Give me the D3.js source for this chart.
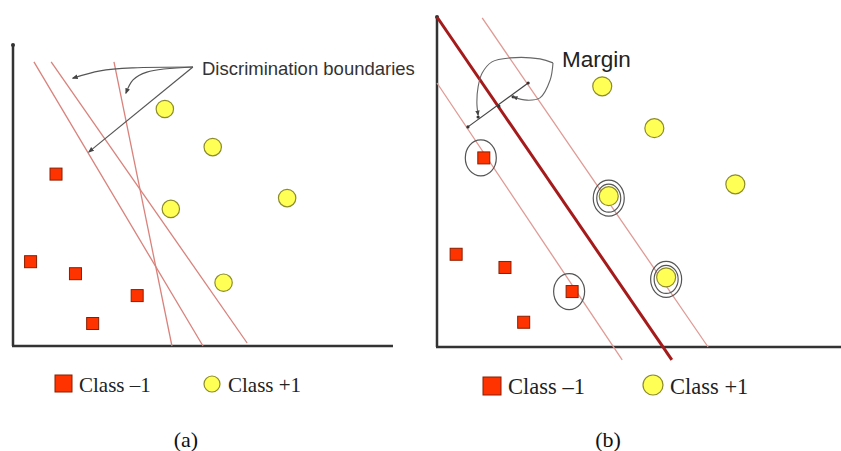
<!DOCTYPE html>
<html>
<head>
<meta charset="utf-8">
<script src="https://cdn.jsdelivr.net/npm/d3@7"></script>
<style>
  body { margin: 0; background: white; }
  svg { display: block; }
</style>
</head>
<body>
<svg id="chart" width="841" height="451"></svg>
<script>
// points, same set in both panels (units 0..100)
const classNeg = [[11.5, 57.3], [4.7, 28.1], [16.7, 24.1], [33.2, 16.8], [21.3, 7.5]];
const classPos = [[40.6, 79], [53.4, 66.3], [42.2, 45.7], [73.3, 49.3], [56.3, 21.1]];

// panel (a): three candidate boundaries
const boundariesA = [
  [[5.6, 94.7], [50.8, 0]],
  [[10.2, 94.7], [62.6, 1]],
  [[27, 94.7], [42.5, 0]]
];
// panel (b): hyperplane + two margin lines
const hyperplaneB = [[0, 100], [57.7, -3.9]];
const marginLinesB = [
  [[0, 80], [45.5, -3.9]],
  [[11.1, 99.7], [66.6, 0]]
];
// support vectors (index into classNeg / classPos)
const svNeg = [0, 3];
const svPos = [2, 4];

// annotation paths (same units)
const pointerA = [
  [[48.1, 93], [32.1, 92.7], [23.3, 91.7], [16, 89.3]],
  [[48.1, 93], [35.8, 91.3], [32.1, 88.7], [30.2, 84.3]],
  [[48.1, 93], [20.3, 64.7]]
];
const marginRuler = [[7.6, 66.7], [22.4, 80]];
const marginTicks = [[10.1, 69.7], [15.2, 73], [18.7, 75.8]];
const marginLoop = [
  [[28.5, 86.1], [25.3, 87.3], [17.9, 87.6], [13.5, 86.4], [11.1, 83], [10.1, 78.8], [9.8, 73.9], [10.1, 70.3]],
  [[28.5, 86.1], [27.8, 80.9], [25.3, 75.5], [22.1, 74.8], [18.7, 75.8]]
];

const legendLabels = ["Class \u20131", "Class +1"];
const captions = ["(a)", "(b)"];

const svg = d3.select('#chart');

const defs = svg.append('defs');
defs.append('marker')
  .attr('id', 'arrow')
  .attr('viewBox', '0 0 10 10')
  .attr('refX', 8).attr('refY', 5)
  .attr('markerWidth', 5).attr('markerHeight', 5)
  .attr('orient', 'auto-start-reverse')
  .append('path')
  .attr('d', 'M0,1 L10,5 L0,9 z')
  .style('fill', '#444');

const negFill = '#ff3300', negStroke = '#8a1e00';
const posFill = '#ffff55', posStroke = '#8c8c2a';
const axisColor = '#333';

function panel(props) {
  const { x0, x1, y0, y1, axisEnd, axisTop, sq, r, g } = props;
  const xScale = d3.scaleLinear().domain([0, 100]).range([x0, x1]);
  const yScale = d3.scaleLinear().domain([0, 100]).range([y0, y1]);

  // axes
  g.append('line')
    .attr('x1', xScale(0)).attr('y1', yScale(0))
    .attr('x2', xScale(0)).attr('y2', yScale(axisTop))
    .style('stroke', axisColor).style('stroke-width', 2.5);
  g.append('line')
    .attr('x1', xScale(0) - 1).attr('y1', yScale(0))
    .attr('x2', xScale(axisEnd)).attr('y2', yScale(0))
    .style('stroke', axisColor).style('stroke-width', 2.5);
  g.append('circle')
    .attr('cx', xScale(0)).attr('cy', yScale(axisTop)).attr('r', 2)
    .style('fill', axisColor);

  return { xScale, yScale, drawPoints: (grp) => {
    grp.selectAll('.neg')
      .data(classNeg)
      .enter()
      .append('rect')
      .attr('class', 'neg')
      .attr('x', d => xScale(d[0]) - sq / 2)
      .attr('y', d => yScale(d[1]) - sq / 2)
      .attr('width', sq).attr('height', sq)
      .style('fill', negFill).style('stroke', negStroke).style('stroke-width', 1);
    grp.selectAll('.pos')
      .data(classPos)
      .enter()
      .append('circle')
      .attr('class', 'pos')
      .attr('cx', d => xScale(d[0]))
      .attr('cy', d => yScale(d[1]))
      .attr('r', r)
      .style('fill', posFill).style('stroke', posStroke).style('stroke-width', 1.2);
  }};
}

// ---------- panel (a)
const gA = svg.append('g');
const A = panel({ x0: 13, x1: 387, y0: 346, y1: 46, axisEnd: 101.6, axisTop: 100.3, sq: 12, r: 8.7, g: gA });

gA.selectAll('.bound')
  .data(boundariesA)
  .enter()
  .append('line')
  .attr('x1', d => A.xScale(d[0][0])).attr('y1', d => A.yScale(d[0][1]))
  .attr('x2', d => A.xScale(d[1][0])).attr('y2', d => A.yScale(d[1][1]))
  .style('stroke', '#d9827c').style('stroke-width', 1.3);

const curve = d3.line()
  .x(d => A.xScale(d[0]))
  .y(d => A.yScale(d[1]))
  .curve(d3.curveCatmullRom);

gA.selectAll('.pointer')
  .data(pointerA)
  .enter()
  .append('path')
  .attr('d', curve)
  .attr('marker-end', 'url(#arrow)')
  .style('fill', 'none').style('stroke', '#555').style('stroke-width', 1.2);

A.drawPoints(gA);

gA.append('text')
  .attr('x', 202).attr('y', 74.5)
  .style('font-family', 'Liberation Sans, Arial, sans-serif')
  .style('font-size', '18.5px')
  .style('fill', '#333')
  .text('Discrimination boundaries');

// ---------- panel (b)
const gB = svg.append('g');
const B = panel({ x0: 437, x1: 844, y0: 347, y1: 17, axisEnd: 99.5, axisTop: 100, sq: 12, r: 9.5, g: gB });

gB.selectAll('.mline')
  .data(marginLinesB)
  .enter()
  .append('line')
  .attr('x1', d => B.xScale(d[0][0])).attr('y1', d => B.yScale(d[0][1]))
  .attr('x2', d => B.xScale(d[1][0])).attr('y2', d => B.yScale(d[1][1]))
  .style('stroke', '#e09a94').style('stroke-width', 1.3);

gB.append('line')
  .attr('x1', B.xScale(hyperplaneB[0][0])).attr('y1', B.yScale(hyperplaneB[0][1]))
  .attr('x2', B.xScale(hyperplaneB[1][0])).attr('y2', B.yScale(hyperplaneB[1][1]))
  .style('stroke', '#a51a1a').style('stroke-width', 3);

B.drawPoints(gB);

// support vector rings
gB.selectAll('.svneg')
  .data(svNeg.map(i => classNeg[i]))
  .enter()
  .append('ellipse')
  .attr('cx', d => B.xScale(d[0]) - 3)
  .attr('cy', d => B.yScale(d[1]))
  .attr('rx', 15.5).attr('ry', 18)
  .style('fill', 'none').style('stroke', '#555').style('stroke-width', 1.2);

[[15.5, 18], [12, 14]].forEach(([rx, ry]) => {
  gB.selectAll(null)
    .data(svPos.map(i => classPos[i]))
    .enter()
    .append('ellipse')
    .attr('cx', d => B.xScale(d[0]))
    .attr('cy', d => B.yScale(d[1]) + 2)
    .attr('rx', rx).attr('ry', ry)
    .style('fill', 'none').style('stroke', '#555').style('stroke-width', 1.2);
});

// margin ruler + callout
gB.append('line')
  .attr('x1', B.xScale(marginRuler[0][0])).attr('y1', B.yScale(marginRuler[0][1]))
  .attr('x2', B.xScale(marginRuler[1][0])).attr('y2', B.yScale(marginRuler[1][1]))
  .style('stroke', '#444').style('stroke-width', 1.2);

gB.selectAll('.tick')
  .data(marginTicks.concat(marginRuler))
  .enter()
  .append('circle')
  .attr('cx', d => B.xScale(d[0]))
  .attr('cy', d => B.yScale(d[1]))
  .attr('r', 1.6)
  .style('fill', '#333');

const curveB = d3.line()
  .x(d => B.xScale(d[0]))
  .y(d => B.yScale(d[1]))
  .curve(d3.curveCatmullRom);

gB.selectAll('.loop')
  .data(marginLoop)
  .enter()
  .append('path')
  .attr('d', curveB)
  .attr('marker-end', 'url(#arrow)')
  .style('fill', 'none').style('stroke', '#666').style('stroke-width', 1.1);

gB.append('text')
  .attr('x', 562).attr('y', 67)
  .style('font-family', 'Liberation Sans, Arial, sans-serif')
  .style('font-size', '22.5px')
  .style('fill', '#222')
  .text('Margin');

// ---------- legends
const legends = [
  { sqX: 55, sqY: 375, sqS: 17, cX: 212, cY: 384, cR: 8, t1: 79, t2: 228, base: 392, fs: 21 },
  { sqX: 483, sqY: 377, sqS: 18, cX: 653, cY: 385, cR: 10, t1: 508, t2: 670, base: 394, fs: 22.5 }
];

legends.forEach(l => {
  const lg = svg.append('g');
  lg.append('rect')
    .attr('x', l.sqX).attr('y', l.sqY)
    .attr('width', l.sqS).attr('height', l.sqS)
    .style('fill', negFill).style('stroke', negStroke).style('stroke-width', 1);
  lg.append('circle')
    .attr('cx', l.cX).attr('cy', l.cY).attr('r', l.cR)
    .style('fill', posFill).style('stroke', posStroke).style('stroke-width', 1.2);
  lg.selectAll('text')
    .data(legendLabels)
    .enter()
    .append('text')
    .attr('x', (d, i) => i === 0 ? l.t1 : l.t2)
    .attr('y', l.base)
    .style('font-family', 'Liberation Serif, Times New Roman, serif')
    .style('font-size', l.fs + 'px')
    .style('fill', '#222')
    .text(d => d);
});

svg.selectAll('.caption')
  .data(captions)
  .enter()
  .append('text')
  .attr('x', (d, i) => i === 0 ? 186 : 608)
  .attr('y', 447)
  .style('text-anchor', 'middle')
  .style('font-family', 'Liberation Serif, Times New Roman, serif')
  .style('font-size', '22px')
  .style('fill', '#111')
  .text(d => d);
</script>
</body>
</html>
